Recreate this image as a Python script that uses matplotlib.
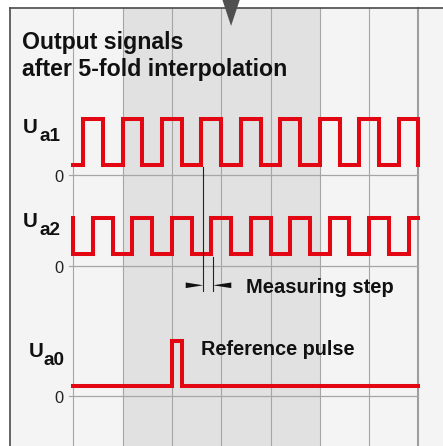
import matplotlib
matplotlib.use("Agg")
import matplotlib.pyplot as plt
from matplotlib.patches import Polygon, Rectangle

# ---------------- data (time in grid divisions, levels 0/1) ----------------
grid_positions = [0, 1, 2, 3, 4, 5, 6, 7]
shaded_span = [1, 5]

ua1_t = [0, 0.2, 0.6, 1.0, 1.4, 1.8, 2.2, 2.6, 3.0, 3.4, 3.8, 4.2, 4.6,
         5.0, 5.4, 5.8, 6.2, 6.6, 7.0]
ua1_lv = [0, 1, 0, 1, 0, 1, 0, 1, 0, 1, 0, 1, 0, 1, 0, 1, 0, 1, 0]

ua2_t = [0, 0, 0.4, 0.8, 1.2, 1.6, 2.0, 2.4, 2.8, 3.2, 3.6, 4.0, 4.4, 4.8,
         5.2, 5.6, 6.0, 6.4, 6.8, 7.0]
ua2_lv = [1, 0, 1, 0, 1, 0, 1, 0, 1, 0, 1, 0, 1, 0, 1, 0, 1, 0, 1, 1]

ua0_t = [0, 2.0, 2.2, 7.0]
ua0_lv = [0, 1, 0, 0]

measure_edges = [2.6, 2.8]     # Ua1 rising edge, Ua2 rising edge
marker_position = 3.2          # top triangle marker

title_lines = ["Output signals", "after 5-fold interpolation"]
signal_names = [("U", "a1"), ("U", "a2"), ("U", "a0")]
zero_label = "0"
measure_label = "Measuring step"
reference_label = "Reference pulse"

# ---------------- layout ----------------
W, H = 443, 446
X0_PX, CELL_PX = 73.3, 49.3


def px2u(px):
    return (px - X0_PX) / CELL_PX


RED = "#e30613"
BG = "#f4f4f4"
SHADE = "#e1e1e1"
GRID = "#a6a6a6"
FRAME = "#4a4a4a"
TXT = "#111111"
FAM = ["Liberation Sans", "DejaVu Sans"]

fig = plt.figure(figsize=(W / 100, H / 100), dpi=100, facecolor="white")
ax = fig.add_axes([0, 0, 1, 1])
ax.set_xlim(px2u(0), px2u(W))
ax.set_ylim(H, 0)
ax.axis("off")

top_px, left_px = 8, 10
# panel background
ax.add_patch(Rectangle((px2u(left_px), top_px), px2u(W + 5) - px2u(left_px),
                       H - top_px + 5, facecolor=BG, edgecolor="none", zorder=0))
ax.add_patch(Rectangle((shaded_span[0], top_px), shaded_span[1] - shaded_span[0],
                       H - top_px + 5, facecolor=SHADE, edgecolor="none", zorder=0.5))
# grid lines
for g in grid_positions:
    last = g == grid_positions[-1]
    ax.plot([g, g], [top_px, H + 2], color="#9e9e9e" if last else GRID,
            lw=1.5 if last else 0.8, zorder=1)
# frame
ax.plot([px2u(left_px), px2u(left_px)], [top_px, H + 2], color=FRAME, lw=1.2, zorder=2)
ax.plot([px2u(left_px), px2u(W + 2)], [top_px, top_px], color=FRAME, lw=1.2, zorder=2)

# top marker triangle
ax.add_patch(Polygon([(marker_position - 0.175, 0), (marker_position + 0.175, 0),
                      (marker_position, 26)], closed=True, facecolor="#505050",
                     edgecolor="none", zorder=3))

# title
fp_title = dict(family=FAM, weight="bold", size=16.7, color=TXT)
ax.text(px2u(22.5), 49, title_lines[0], ha="left", va="baseline", **fp_title)
ax.text(px2u(22.5), 76, title_lines[1], ha="left", va="baseline", **fp_title)

# tracks: (zero, low, high) in pixel rows, label positions
tracks = [
    dict(t=ua1_t, lv=ua1_lv, zero=174.7, low=164.5, high=118.5,
         U=(22.3, 133.3), sub=(40.0, 141), zl=182),
    dict(t=ua2_t, lv=ua2_lv, zero=265.7, low=254.3, high=217.5,
         U=(23.0, 227.3), sub=(40.0, 235.3), zl=272.7),
    dict(t=ua0_t, lv=ua0_lv, zero=396.0, low=385.5, high=340.5,
         U=(28.3, 356.7), sub=(44.0, 365.3), zl=403.3),
]

fp_U = dict(family=FAM, weight="bold", size=14.8, color=TXT)
fp_sub = dict(family=FAM, weight="bold", size=13.6, color=TXT)
fp_zero = dict(family=FAM, size=11.8, color="#222222")

for tr, (u, s) in zip(tracks, signal_names):
    ys = [tr["low"] - v * (tr["low"] - tr["high"]) for v in tr["lv"]]
    ax.plot([px2u(69.3), grid_positions[-1]], [tr["zero"], tr["zero"]],
            color=GRID, lw=0.9, zorder=1.5)
    ax.plot(tr["t"], ys, drawstyle="steps-post", color=RED, lw=2.9,
            solid_capstyle="projecting", solid_joinstyle="miter", zorder=4)
    ax.text(px2u(tr["U"][0]), tr["U"][1], u, ha="left", va="baseline", **fp_U)
    ax.text(px2u(tr["sub"][0]), tr["sub"][1], s, ha="left", va="baseline", **fp_sub)
    ax.text(px2u(64), tr["zl"], zero_label, ha="right", va="baseline", **fp_zero)

# measuring step
off = 0.035
m1, m2 = measure_edges[0] + off, measure_edges[1] + off
ax.plot([m1, m1], [166.5, 291], color="#222222", lw=0.8, zorder=5)
ax.plot([m2, m2], [256.5, 291], color="#222222", lw=0.8, zorder=5)
yA = 285.3
ax.add_patch(Polygon([(m1 - 0.355, yA - 2.8), (m1 - 0.355, yA + 2.8), (m1, yA)],
                     closed=True, facecolor="#111111", edgecolor="none", zorder=5))
ax.add_patch(Polygon([(m2 + 0.37, yA - 2.8), (m2 + 0.37, yA + 2.8), (m2, yA)],
                     closed=True, facecolor="#111111", edgecolor="none", zorder=5))

fp_lab = dict(family=FAM, weight="bold", color=TXT)
ax.text(px2u(246), 292.7, measure_label, ha="left", va="baseline", size=14.5, **fp_lab)
ax.text(px2u(201), 355, reference_label, ha="left", va="baseline", size=14.3, **fp_lab)

fig.savefig("out.png", dpi=100, facecolor="white")
